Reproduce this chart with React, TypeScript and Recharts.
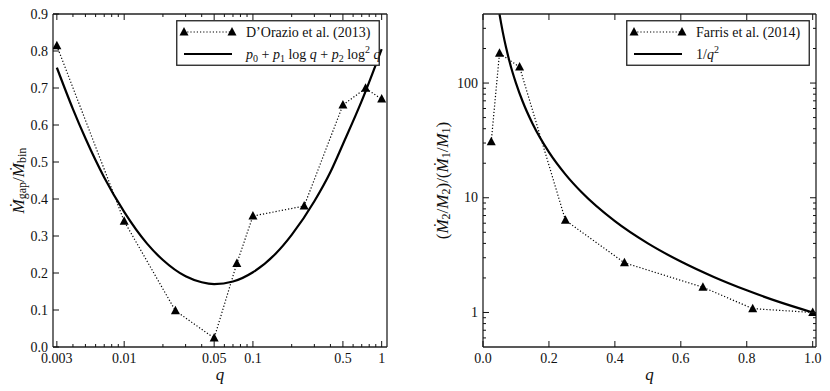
import React from "react";
import { LineChart, Line, XAxis, YAxis, Legend } from "recharts";

const FONT = "Liberation Serif, Times New Roman, DejaVu Serif, serif";
const INK = "#111";

// left panel: D'Orazio et al. (2013)
const dorazioQ = [0.003, 0.01, 0.025, 0.05, 0.075, 0.1, 0.25, 0.5, 0.75, 1];
const dorazioRate = [0.814, 0.34, 0.098, 0.024, 0.226, 0.354, 0.381, 0.654, 0.699, 0.67];
// fit p0 + p1 log q + p2 log^2 q
const fitQ = [0.003, 0.004, 0.005, 0.007, 0.01, 0.015, 0.02, 0.03, 0.04, 0.05, 0.07, 0.1, 0.15, 0.2, 0.3, 0.4, 0.5, 0.7, 1];
const fitRate = [0.755, 0.643, 0.564, 0.458, 0.365, 0.28, 0.235, 0.191, 0.175, 0.17, 0.177, 0.202, 0.252, 0.303, 0.394, 0.473, 0.548, 0.665, 0.805];
const leftXLabelled = [0.003, 0.01, 0.05, 0.1, 0.5, 1];
const leftXMinor = [0.004, 0.005, 0.006, 0.007, 0.008, 0.009, 0.02, 0.03, 0.04, 0.06, 0.07, 0.08, 0.09, 0.2, 0.3, 0.4, 0.6, 0.7, 0.8, 0.9];
const leftYTicks = [0, 0.1, 0.2, 0.3, 0.4, 0.5, 0.6, 0.7, 0.8, 0.9];

// right panel: Farris et al. (2014)
const farrisQ = [0.025, 0.05, 0.111, 0.25, 0.429, 0.667, 0.818, 1];
const farrisRatio = [30.8, 182, 138, 6.36, 2.71, 1.66, 1.08, 1.0];
// 1/q^2
const invQ = [0.05, 0.055, 0.06, 0.07, 0.08, 0.09, 0.1, 0.12, 0.15, 0.2, 0.25, 0.3, 0.4, 0.5, 0.6, 0.7, 0.8, 0.9, 1];
const invRatio = [400, 331, 278, 204, 156, 123, 100, 69.4, 44.4, 25, 16, 11.1, 6.25, 4, 2.78, 2.04, 1.56, 1.23, 1];
const rightXTicks = [0, 0.2, 0.4, 0.6, 0.8, 1.0];
const rightYLabelled = [1, 10, 100];
const rightYMinor = [0.6, 0.7, 0.8, 0.9, 2, 3, 4, 5, 6, 7, 8, 9, 20, 30, 40, 50, 60, 70, 80, 90, 200, 300];

const zip = (q: number[], v: number[]) => q.map((x, i) => ({ q: x, v: v[i] }));
const dorazio = zip(dorazioQ, dorazioRate);
const fit = zip(fitQ, fitRate);
const farris = zip(farrisQ, farrisRatio);
const inv = zip(invQ, invRatio);

const txt = { fontFamily: FONT } as React.CSSProperties;

type Side = "left" | "right" | "top" | "bottom";

// inward ticks, matplotlib style; labels only on the left/bottom axes
const makeTick = (side: Side, labelled: number[], fmt?: (v: number) => string) => (props: any) => {
  const { x, y, payload } = props;
  const v = payload.value as number;
  const major = labelled.includes(v);
  const len = major ? 6 : 3;
  let l = { x1: x, y1: y, x2: x, y2: y };
  if (side === "left") l.x2 = x + len;
  if (side === "right") l.x2 = x - len;
  if (side === "bottom") l.y2 = y - len;
  if (side === "top") l.y2 = y + len;
  return (
    <g>
      <line {...l} stroke={INK} strokeWidth={1} />
      {fmt && major && side === "left" && (
        <text x={x - 5} y={y} textAnchor="end" dominantBaseline="central" style={txt} fontSize={14} fill={INK}>
          {fmt(v)}
        </text>
      )}
      {fmt && major && side === "bottom" && (
        <text x={x} y={y + 16} textAnchor="middle" style={txt} fontSize={14} fill={INK}>
          {fmt(v)}
        </text>
      )}
    </g>
  );
};

const Triangle = (props: any) => {
  const { cx, cy } = props;
  if (cx == null || cy == null) return null;
  return <path d={`M${cx},${cy - 5}L${cx - 4.5},${cy + 3.5}L${cx + 4.5},${cy + 3.5}Z`} fill="#000" />;
};

const QLabel = (props: any) => {
  const { x, width } = props.viewBox;
  return (
    <text x={x + width / 2} y={380} textAnchor="middle" style={txt} fontStyle="italic" fontSize={17} fill={INK}>
      q
    </text>
  );
};

const LeftYLabel = (props: any) => {
  const { y, height } = props.viewBox;
  const cx = 18;
  const cy = y + height / 2;
  return (
    <text transform={`rotate(-90 ${cx} ${cy})`} x={cx} y={cy} textAnchor="middle" dominantBaseline="central" style={txt} fontSize={17} fill={INK}>
      <tspan fontStyle="italic">{"\u1E40"}</tspan>
      <tspan fontSize={12} dy={4}>gap</tspan>
      <tspan dy={-4}>/</tspan>
      <tspan fontStyle="italic">{"\u1E40"}</tspan>
      <tspan fontSize={12} dy={4}>bin</tspan>
    </text>
  );
};

const RightYLabel = (props: any) => {
  const { y, height } = props.viewBox;
  const cx = 27;
  const cy = y + height / 2;
  return (
    <text transform={`rotate(-90 ${cx} ${cy})`} x={cx} y={cy} textAnchor="middle" dominantBaseline="central" style={txt} fontSize={17} fill={INK}>
      (<tspan fontStyle="italic">{"\u1E40"}</tspan>
      <tspan fontSize={12} dy={4}>2</tspan>
      <tspan dy={-4}>/</tspan>
      <tspan fontStyle="italic">M</tspan>
      <tspan fontSize={12} dy={4}>2</tspan>
      <tspan dy={-4}>)/(</tspan>
      <tspan fontStyle="italic">{"\u1E40"}</tspan>
      <tspan fontSize={12} dy={4}>1</tspan>
      <tspan dy={-4}>/</tspan>
      <tspan fontStyle="italic">M</tspan>
      <tspan fontSize={12} dy={4}>1</tspan>
      <tspan dy={-4}>)</tspan>
    </text>
  );
};

const Sample = ({ dotted }: { dotted: boolean }) =>
  dotted ? (
    <g>
      <line x1={8} x2={56} y1={12} y2={12} stroke="#000" strokeWidth={1.2} strokeDasharray="1.2 2" />
      <Triangle cx={8} cy={12} />
      <Triangle cx={56} cy={12} />
    </g>
  ) : (
    <line x1={8} x2={56} y1={34} y2={34} stroke="#000" strokeWidth={2.2} />
  );

const LeftLegend = () => (
  <svg width={204} height={46} style={{ display: "block" }}>
    <rect x={0.75} y={0.75} width={202.5} height={44.5} fill="#fff" stroke="#222" strokeWidth={1.3} />
    <Sample dotted />
    <Sample dotted={false} />
    <text x={70} y={17} style={txt} fontSize={14} fill={INK}>D’Orazio et al. (2013)</text>
    <text x={70} y={39} style={txt} fontSize={14} fill={INK}>
      <tspan fontStyle="italic">p</tspan>
      <tspan fontSize={10} dy={3}>0</tspan>
      <tspan dy={-3}> + </tspan>
      <tspan fontStyle="italic">p</tspan>
      <tspan fontSize={10} dy={3}>1</tspan>
      <tspan dy={-3}> log </tspan>
      <tspan fontStyle="italic">q</tspan>
      <tspan> + </tspan>
      <tspan fontStyle="italic">p</tspan>
      <tspan fontSize={10} dy={3}>2</tspan>
      <tspan dy={-3}> log</tspan>
      <tspan fontSize={10} dy={-6}>2</tspan>
      <tspan dy={6}> </tspan>
      <tspan fontStyle="italic">q</tspan>
    </text>
  </svg>
);

const RightLegend = () => (
  <svg width={184} height={46} style={{ display: "block" }}>
    <rect x={0.75} y={0.75} width={182.5} height={44.5} fill="#fff" stroke="#222" strokeWidth={1.3} />
    <Sample dotted />
    <Sample dotted={false} />
    <text x={70} y={17} style={txt} fontSize={14} fill={INK}>Farris et al. (2014)</text>
    <text x={70} y={39} style={txt} fontSize={14} fill={INK}>
      1/<tspan fontStyle="italic">q</tspan>
      <tspan fontSize={10} dy={-6}>2</tspan>
    </text>
  </svg>
);

const axisLine = { stroke: "#222", strokeWidth: 1.3 };
const legendPos = { layout: "horizontal" as const, verticalAlign: "middle" as const, align: "center" as const };

function LeftPanel() {
  const xTicks = [...leftXLabelled, ...leftXMinor].sort((a, b) => a - b);
  const xDomain = [0.0028, 1.1];
  const yDomain = [0, 0.9];
  return (
    <LineChart width={415} height={391} margin={{ top: 0, right: 0, bottom: 0, left: 0 }}>
      <XAxis xAxisId="b" dataKey="q" type="number" scale="log" domain={xDomain} allowDataOverflow ticks={xTicks} interval={0}
        height={44} tickSize={0} tickMargin={0} axisLine={axisLine} tickLine={false}
        tick={makeTick("bottom", leftXLabelled, (v) => String(v))} label={<QLabel />} />
      <XAxis xAxisId="t" orientation="top" dataKey="q" type="number" scale="log" domain={xDomain} allowDataOverflow ticks={xTicks} interval={0}
        height={14} tickSize={0} tickMargin={0} axisLine={axisLine} tickLine={false} tick={makeTick("top", leftXLabelled)} />
      <YAxis yAxisId="l" type="number" domain={yDomain} ticks={leftYTicks} interval={0} width={53} tickSize={0} tickMargin={0}
        axisLine={axisLine} tickLine={false} tick={makeTick("left", leftYTicks, (v) => v.toFixed(1))} label={<LeftYLabel />} />
      <YAxis yAxisId="r" orientation="right" type="number" domain={yDomain} ticks={leftYTicks} interval={0} width={28} tickSize={0} tickMargin={0}
        axisLine={axisLine} tickLine={false} tick={makeTick("right", leftYTicks)} />
      <Line xAxisId="b" yAxisId="l" data={dorazio} dataKey="v" type="linear" stroke="#000" strokeWidth={1.2} strokeDasharray="1.2 2"
        dot={<Triangle />} activeDot={false} isAnimationActive={false} />
      <Line xAxisId="b" yAxisId="l" data={fit} dataKey="v" type="monotone" stroke="#000" strokeWidth={2.2} dot={false}
        activeDot={false} isAnimationActive={false} />
      <Legend {...legendPos} content={() => <LeftLegend />} wrapperStyle={{ left: 176, top: 20, width: 204, height: 46 }} />
    </LineChart>
  );
}

function RightPanel() {
  const yTicks = [...rightYLabelled, ...rightYMinor].sort((a, b) => a - b);
  const xDomain = [0, 1.01];
  const yDomain = [0.5, 400];
  return (
    <LineChart width={415} height={391} margin={{ top: 0, right: 0, bottom: 0, left: 0 }}>
      <XAxis xAxisId="b" dataKey="q" type="number" domain={xDomain} allowDataOverflow ticks={rightXTicks} interval={0}
        height={44} tickSize={0} tickMargin={0} axisLine={axisLine} tickLine={false}
        tick={makeTick("bottom", rightXTicks, (v) => v.toFixed(1))} label={<QLabel />} />
      <XAxis xAxisId="t" orientation="top" dataKey="q" type="number" domain={xDomain} allowDataOverflow ticks={rightXTicks} interval={0}
        height={14} tickSize={0} tickMargin={0} axisLine={axisLine} tickLine={false} tick={makeTick("top", rightXTicks)} />
      <YAxis yAxisId="l" type="number" scale="log" domain={yDomain} allowDataOverflow ticks={yTicks} interval={0} width={68} tickSize={0} tickMargin={0}
        axisLine={axisLine} tickLine={false} tick={makeTick("left", rightYLabelled, (v) => String(v))} label={<RightYLabel />} />
      <YAxis yAxisId="r" orientation="right" type="number" scale="log" domain={yDomain} allowDataOverflow ticks={yTicks} interval={0} width={14} tickSize={0} tickMargin={0}
        axisLine={axisLine} tickLine={false} tick={makeTick("right", rightYLabelled)} />
      <Line xAxisId="b" yAxisId="l" data={farris} dataKey="v" type="linear" stroke="#000" strokeWidth={1.2} strokeDasharray="1.2 2"
        dot={<Triangle />} activeDot={false} isAnimationActive={false} />
      <Line xAxisId="b" yAxisId="l" data={inv} dataKey="v" type="monotone" stroke="#000" strokeWidth={2.2} dot={false}
        activeDot={false} isAnimationActive={false} />
      <Legend {...legendPos} content={() => <RightLegend />} wrapperStyle={{ left: 211, top: 20, width: 184, height: 46 }} />
    </LineChart>
  );
}

export default function App() {
  return (
    <div style={{ position: "absolute", left: 0, top: 0, width: 830, height: 391, background: "#fff", fontFamily: FONT }}>
      <div style={{ position: "absolute", left: 0, top: 0 }}>
        <LeftPanel />
      </div>
      <div style={{ position: "absolute", left: 415, top: 0 }}>
        <RightPanel />
      </div>
    </div>
  );
}
